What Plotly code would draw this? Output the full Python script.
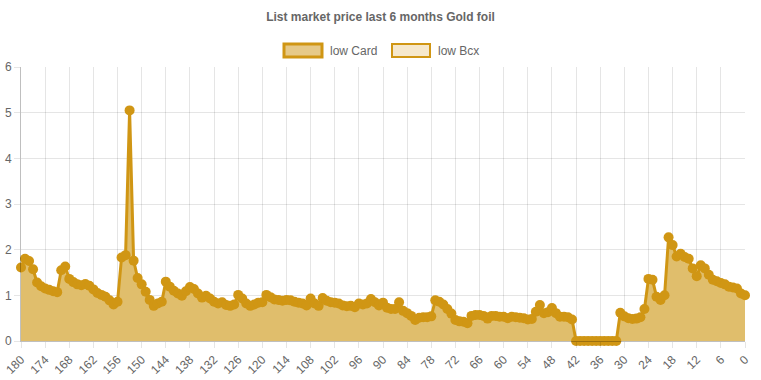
import plotly.graph_objects as go

title_text = "List market price last 6 months Gold foil"
series_names = ["low Card", "low Bcx"]

# days ago (180 -> 0)
days = list(range(180, -1, -1))

low_card = [
    1.61, 1.80, 1.75, 1.57, 1.28, 1.20, 1.15, 1.12, 1.09, 1.07,   # 180-171
    1.55, 1.63, 1.36, 1.29, 1.24, 1.22, 1.25, 1.21, 1.13, 1.05,   # 170-161
    1.01, 0.97, 0.89, 0.80, 0.86, 1.83, 1.88, 5.05, 1.76, 1.38,   # 160-151
    1.24, 1.08, 0.90, 0.77, 0.82, 0.86, 1.30, 1.19, 1.10, 1.04,   # 150-141
    0.99, 1.09, 1.18, 1.14, 1.04, 0.95, 0.99, 0.93, 0.86, 0.82,   # 140-131
    0.85, 0.79, 0.77, 0.80, 1.01, 0.93, 0.82, 0.77, 0.80, 0.84,   # 130-121
    0.85, 1.01, 0.96, 0.91, 0.90, 0.88, 0.90, 0.89, 0.86, 0.84,   # 120-111
    0.82, 0.78, 0.93, 0.82, 0.77, 0.94, 0.88, 0.85, 0.84, 0.82,   # 110-101
    0.78, 0.76, 0.77, 0.74, 0.82, 0.80, 0.82, 0.92, 0.85, 0.78,   # 100-91
    0.84, 0.73, 0.70, 0.70, 0.85, 0.66, 0.61, 0.55, 0.46, 0.51,   # 90-81
    0.52, 0.52, 0.54, 0.89, 0.86, 0.80, 0.70, 0.60, 0.46, 0.43,   # 80-71
    0.42, 0.39, 0.55, 0.57, 0.57, 0.55, 0.49, 0.55, 0.55, 0.53,   # 70-61
    0.53, 0.50, 0.53, 0.52, 0.51, 0.50, 0.47, 0.48, 0.64, 0.79,   # 60-51
    0.61, 0.63, 0.72, 0.61, 0.53, 0.53, 0.52, 0.47, 0.00, 0.00,   # 50-41
    0.00, 0.00, 0.00, 0.00, 0.00, 0.00, 0.00, 0.00, 0.00, 0.62,   # 40-31
    0.54, 0.50, 0.48, 0.49, 0.52, 0.70, 1.36, 1.34, 0.97, 0.90,   # 30-21
    1.00, 2.27, 2.10, 1.85, 1.91, 1.84, 1.80, 1.59, 1.42, 1.66,   # 20-11
    1.59, 1.45, 1.34, 1.31, 1.27, 1.24, 1.19, 1.17, 1.15, 1.04,   # 10-1
    1.00,                                                         # 0
]

x_ticks = list(range(180, -1, -6))
y_ticks = [0, 1, 2, 3, 4, 5, 6]

line_color = "#d09614"
fill_color = "rgb(224,190,108)"
card_legend_fill = "rgb(230,201,136)"
bcx_legend_fill = "rgb(246,232,204)"
grid_color = "rgba(0,0,0,0.1)"
text_color = "#666666"

fig = go.Figure()
fig.add_trace(go.Scatter(
    x=days, y=low_card, name=series_names[0], mode="lines+markers",
    line=dict(color=line_color, width=3),
    marker=dict(color=line_color, size=10, line=dict(width=0)),
    fill="tozeroy", fillcolor=fill_color,
    cliponaxis=False, showlegend=False,
))

fig.update_layout(
    width=761, height=380,
    margin=dict(l=21, r=16, t=67, b=39, autoexpand=False),
    paper_bgcolor="white", plot_bgcolor="white",
    font=dict(family="Liberation Sans, Arial, sans-serif", size=12, color=text_color),
    showlegend=False,
    title=dict(text="<b>" + title_text + "</b>", x=0.5, xanchor="center",
               y=1 - 17 / 380, yanchor="middle",
               font=dict(size=12, color=text_color)),
)

fig.update_xaxes(
    range=[180, 0], tickmode="array", tickvals=x_ticks,
    ticktext=[str(t) for t in x_ticks], tickangle=-45, automargin=False,
    showgrid=True, gridcolor=grid_color, gridwidth=1,
    ticks="outside", ticklen=6, tickcolor=grid_color,
    showline=True, linecolor="rgba(0,0,0,0.25)", linewidth=1,
    zeroline=False, tickfont=dict(size=12, color=text_color),
)
fig.update_yaxes(
    range=[0, 6], tickmode="array", tickvals=y_ticks, automargin=False,
    showgrid=True, gridcolor=grid_color, gridwidth=1,
    ticks="outside", ticklen=6, tickcolor=grid_color,
    showline=True, linecolor="rgba(0,0,0,0.25)", linewidth=1,
    zeroline=False, tickfont=dict(size=12, color=text_color),
)

# manual legend (chart.js style boxes)
legend_items = [
    (series_names[0], 284, 322, card_legend_fill, 3),
    (series_names[1], 392, 430, bcx_legend_fill, 2),
]
for name, x0, x1, fc, lw in legend_items:
    fig.add_shape(type="rect", xref="paper", yref="paper",
                  x0=(x0 - 21) / 724, x1=(x1 - 21) / 724,
                  y0=(341 - 57) / 274, y1=(341 - 44) / 274,
                  fillcolor=fc, line=dict(color=line_color, width=lw))
    fig.add_annotation(xref="paper", yref="paper",
                       x=(x1 + 6 - 21) / 724, y=(341 - 50.5) / 274,
                       xanchor="left", yanchor="middle", showarrow=False,
                       text=name, font=dict(size=12, color=text_color))

fig.write_html(
    "out.html",
    config={"displayModeBar": False},
    post_script="document.body.style.margin='0';document.body.style.overflow='hidden';",
)
